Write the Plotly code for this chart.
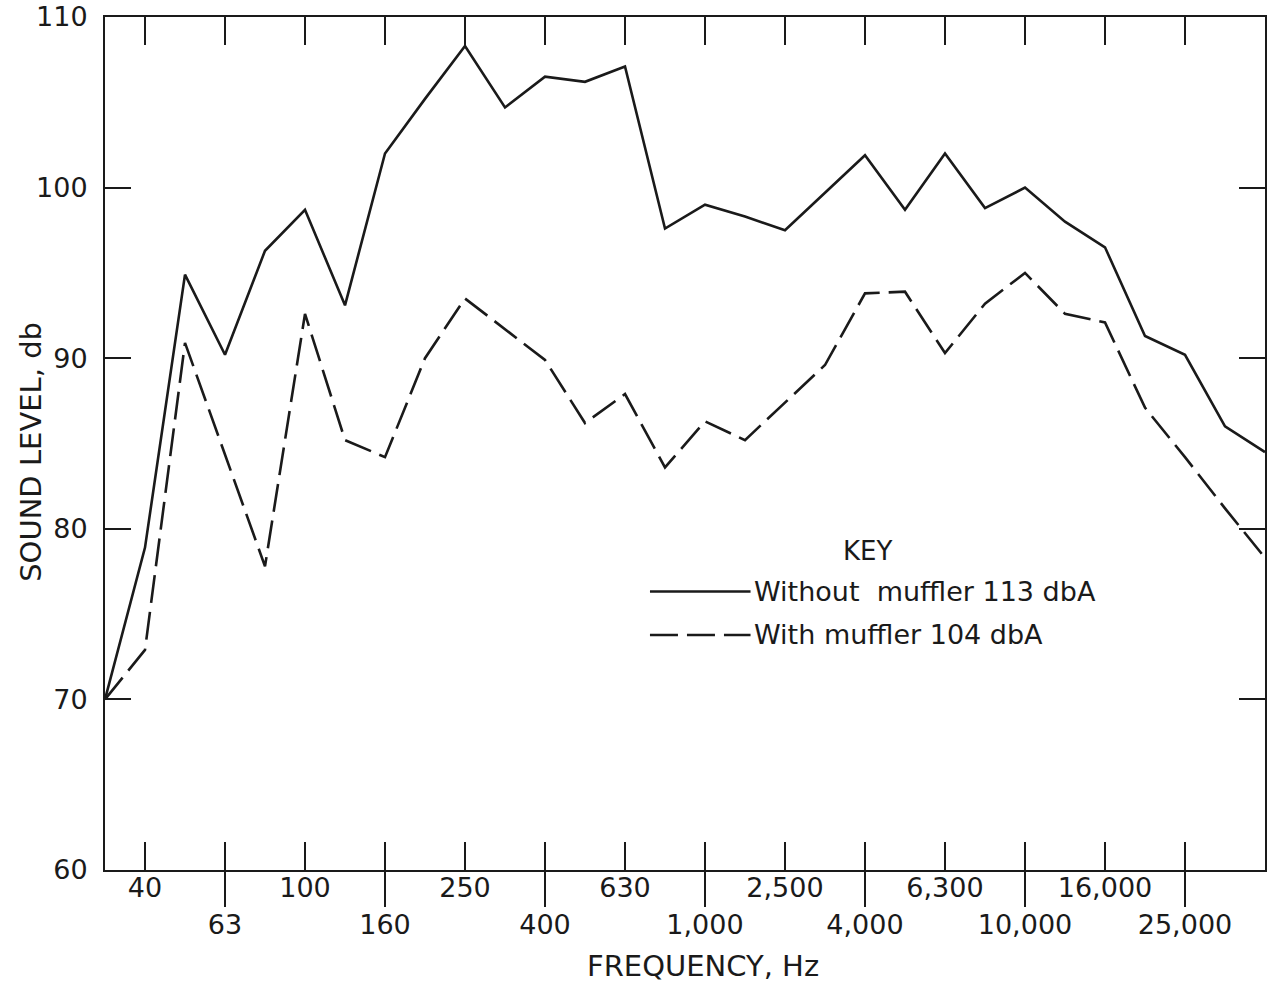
import plotly.graph_objects as go

# One-third-octave band centres (Hz) along the x axis
bands = ["31.5", "40", "50", "63", "80", "100", "125", "160", "200", "250",
         "315", "400", "500", "630", "800", "1000", "1250", "1600", "2000", "2500",
         "3150", "4000", "5000", "6300", "8000", "10000", "12500", "16000", "20000", "25000"]

# Sound level, db
without_muffler = [70.0, 78.9, 94.9, 90.2, 96.3, 98.7, 93.1, 102.0, 105.2, 108.3,
                   104.7, 106.5, 106.2, 107.1, 97.6, 99.0, 98.3, 97.5, 99.7, 101.9,
                   98.7, 102.0, 98.8, 100.0, 98.0, 96.5, 91.3, 90.2, 86.0, 84.5]
with_muffler = [70.0, 72.9, 90.9, 84.4, 77.8, 92.6, 85.2, 84.2, 90.0, 93.5,
                91.7, 89.9, 86.2, 87.9, 83.6, 86.3, 85.2, 87.4, 89.6, 93.8,
                93.9, 90.3, 93.2, 95.0, 92.6, 92.1, 87.1, 84.2, 81.2, 78.3]

# Tick positions (bands) and their printed labels, alternating in two rows
tick_bands = ["40", "63", "100", "160", "250", "400", "630", "1000", "1600", "2500",
              "4000", "6300", "10000", "16000"]
tick_text = ["40", "63", "100", "160", "250", "400", "630", "1,000", "2,500", "4,000",
             "6,300", "10,000", "16,000", "25,000"]
y_ticks = [60, 70, 80, 90, 100, 110]

series_names = ["Without  muffler 113 dbA", "With muffler 104 dbA"]

INK = "#1a1a1a"
FONT = "DejaVu Sans"
DASH = "28px,9px"

upper_text = [t if i % 2 == 0 else "" for i, t in enumerate(tick_text)]
lower_idx = [bands.index(b) for i, b in enumerate(tick_bands) if i % 2 == 1]
lower_text = [t for i, t in enumerate(tick_text) if i % 2 == 1]

fig = go.Figure()
fig.add_trace(go.Scatter(x=bands, y=without_muffler, mode="lines", name=series_names[0],
                         line=dict(color=INK, width=2.6), showlegend=False))
fig.add_trace(go.Scatter(x=bands, y=with_muffler, mode="lines", name=series_names[1],
                         line=dict(color=INK, width=2.6, dash=DASH), showlegend=False))
# empty helper trace so the second (lower-row) x axis is drawn
fig.add_trace(go.Scatter(x=[lower_idx[0]], y=[None], xaxis="x2", yaxis="y", mode="lines",
                         showlegend=False, hoverinfo="skip"))

fig.update_layout(
    width=1280, height=984,
    margin=dict(l=105, r=15, t=17, b=114, autoexpand=False),
    paper_bgcolor="white", plot_bgcolor="white",
    font=dict(family=FONT, color=INK),
    xaxis=dict(type="category", categoryorder="array", categoryarray=bands,
               range=[0, len(bands) - 1], tickmode="array", tickvals=tick_bands,
               ticktext=upper_text, ticks="inside", ticklen=28, tickwidth=2,
               tickcolor=INK, showline=True, linewidth=2, linecolor=INK,
               mirror="ticks", showgrid=False, zeroline=False, automargin=False,
               ticklabelstandoff=-7,
               tickfont=dict(family=FONT, size=27, color=INK)),
    xaxis2=dict(overlaying="x", anchor="y", side="bottom", type="linear",
                range=[0, len(bands) - 1], tickmode="array", tickvals=lower_idx,
                ticktext=lower_text, ticks="outside", ticklen=36, tickwidth=2,
                tickcolor=INK, showline=False, showgrid=False, zeroline=False,
                automargin=False, ticklabelstandoff=-5,
                tickfont=dict(family=FONT, size=27, color=INK)),
    yaxis=dict(range=[60, 110], tickmode="array", tickvals=y_ticks,
               ticks="inside", ticklen=26, tickwidth=2, tickcolor=INK,
               showline=True, linewidth=2, linecolor=INK, mirror="ticks",
               showgrid=False, zeroline=False, ticklabelstandoff=10, automargin=False,
               tickfont=dict(family=FONT, size=27, color=INK)),
)

# Axis titles
fig.add_annotation(text="SOUND LEVEL, db", textangle=-90, xref="paper", yref="paper",
                   x=-0.064, y=0.49, showarrow=False, xanchor="center", yanchor="middle",
                   font=dict(family=FONT, size=29, color=INK))
fig.add_annotation(text="FREQUENCY, Hz", xref="paper", yref="paper",
                   x=0.5155, y=-0.1125, showarrow=False, xanchor="center", yanchor="middle",
                   font=dict(family=FONT, size=29, color=INK))

# Key
fig.add_annotation(text="KEY", xref="paper", yref="paper", x=0.657, y=0.374,
                   showarrow=False, xanchor="center", yanchor="middle",
                   font=dict(family=FONT, size=26, color=INK))
key_y = [0.3265, 0.2755]
key_dash = ["solid", DASH]
for name, ky, kd in zip(series_names, key_y, key_dash):
    fig.add_shape(type="line", xref="paper", yref="paper", x0=0.4698, x1=0.5565,
                  y0=ky, y1=ky, line=dict(color=INK, width=2.4, dash=kd))
    fig.add_annotation(text=name, xref="paper", yref="paper", x=0.5575, y=ky,
                       showarrow=False, xanchor="left", yanchor="middle",
                       font=dict(family=FONT, size=27, color=INK))

post = ("document.body.style.margin='0';document.body.style.padding='0';"
        "var g=document.getElementById('{plot_id}');"
        "g.style.position='absolute';g.style.left='0px';g.style.top='0px';")
fig.write_html("out.html", post_script=post, config={"displayModeBar": False})
